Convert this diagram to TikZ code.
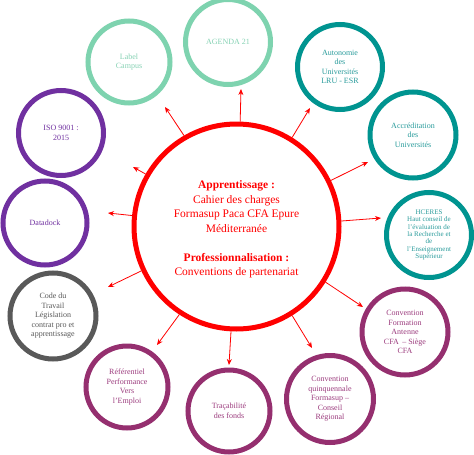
\documentclass[tikz,border=0pt]{standalone}
\usepackage{fontspec}
\setmainfont{Liberation Serif}
\usetikzlibrary{arrows.meta}
\definecolor{mint}{HTML}{7ED3AF}
\definecolor{minttext}{HTML}{86D2B4}
\definecolor{tealring}{HTML}{009490}
\definecolor{tealtext}{HTML}{2A9C9C}
\definecolor{purpring}{HTML}{7030A0}
\definecolor{plumring}{HTML}{952F6F}
\definecolor{plumtext}{HTML}{9C3C7E}
\definecolor{grayring}{HTML}{595959}
\definecolor{redring}{HTML}{FF0000}
\begin{document}
\begin{tikzpicture}[x=1pt,y=-1pt,
  sat/.style={circle, draw, line width=5pt, minimum size=#1, inner sep=0pt, align=center,
    font=\fontsize{8}{9.5}\selectfont},
  sat/.default=83pt,
  mintc/.style={draw=mint, text=minttext},
  tealc/.style={draw=tealring, text=tealtext},
  purpc/.style={draw=purpring, text=purpring},
  plumc/.style={draw=plumring, text=plumtext},
  grayc/.style={draw=grayring, text=grayring},
  arr/.style={draw=redring, line width=0.8pt, -{Stealth[length=6pt,width=5pt]}}
]
\useasboundingbox (0,0) rectangle (474,455);
\fill[white] (0,0) rectangle (474,455);

% central circle
\node[circle, draw=redring, line width=5pt, minimum size=205pt, inner sep=0pt] (c) at (236.5,226.5) {};
\node[align=center, text=redring, font=\fontsize{11.5}{14.5}\selectfont] (ct) at (236.5,229.5)
  {\textbf{Apprentissage :}\\Cahier des charges\\Formasup Paca CFA Epure\\Méditerranée\\[14.5pt]
   \textbf{Professionnalisation :}\\Conventions de partenariat};

% satellites
\node[sat=82pt, mintc] (s1) at (129,62) {Label\\Campus};
\node[sat=85pt, mintc] (s2) at (228,42) {AGENDA 21};
\node[sat=85pt, tealc] (s3) at (340,67) {Autonomie\\des\\Universités\\LRU - ESR};
\node[sat=86pt, tealc] (s4) at (413,135) {Accréditation\\des\\Universités};
\node[sat=85pt, tealc, font=\fontsize{7}{7.3}\selectfont] (s5) at (429,235)
  {HCERES\\Haut conseil de\\l'évaluation de\\la Recherche et\\de\\l'Enseignement\\Supérieur};
\node[sat=86pt, plumc] (s6) at (405,332) {Convention\\Formation\\Antenne\\CFA \,– Siège\\CFA};
\node[sat=87pt, plumc] (s7) at (330,399) {Convention\\quinquennale\\Formasup –\\Conseil\\Régional};
\node[sat=82pt, plumc] (s8) at (229,411) {Traçabilité\\des fonds};
\node[sat=82pt, plumc] (s9) at (127,387) {Référentiel\\Performance\\Vers\\l'Emploi};
\node[sat=86pt, grayc] (s10) at (53,316) {Code du\\Travail\\Législation\\contrat pro et\\apprentissage};
\node[sat=84pt, purpc] (s11) at (45,223) {Datadock};
\node[sat=85pt, purpc] (s12) at (61,133) {ISO 9001 :\\2015};

% arrow heads
\coordinate (h1) at (165,107);
\coordinate (h2) at (241,89);
\coordinate (h3) at (310,108);
\coordinate (h4) at (368,162);
\coordinate (h5) at (381,218);
\coordinate (h6) at (363,307);
\coordinate (h7) at (312,348);
\coordinate (h8) at (229,365);
\coordinate (h9) at (157,345);
\coordinate (h10) at (108,287);
\coordinate (h11) at (108,213);
\coordinate (h12) at (133,167);

\draw[arr] (c.120.9) -- (h1);
\draw[arr] (c.88) -- (h2);
\draw[arr] (c.58.2) -- (h3);
\draw[arr] (c.26.1) -- (h4);
\draw[arr] (c.3.4) -- (h5);
\draw[arr] (c.-32.5) -- (h6);
\draw[arr] (c.-58.1) -- (h7);
\draw[arr] (c.-93.1) -- (h8);
\draw[arr] (c.-123.9) -- (h9);
\draw[arr] (c.205.2) -- (h10);
\draw[arr] (c.174) -- (h11);
\draw[arr] (c.150) -- (h12);
\end{tikzpicture}
\end{document}
